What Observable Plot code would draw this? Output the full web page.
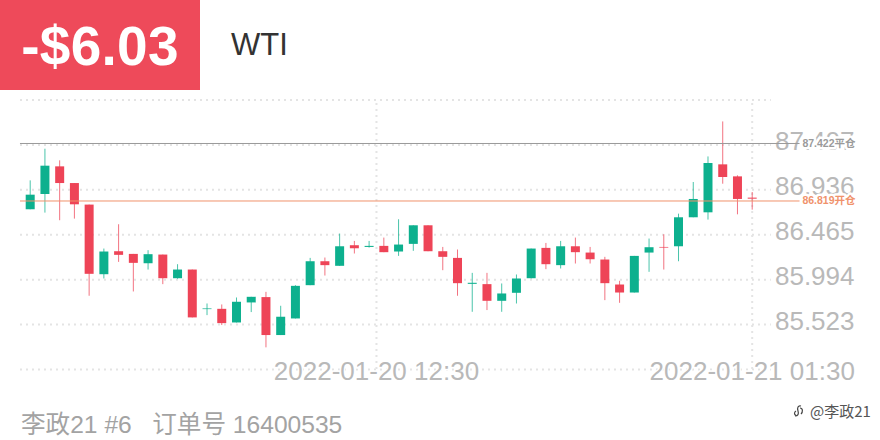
<!DOCTYPE html>
<html><head><meta charset="utf-8">
<script src="https://cdn.jsdelivr.net/npm/d3@7"></script>
<script src="https://cdn.jsdelivr.net/npm/@observablehq/plot@0.6"></script>
<style>
html,body{margin:0;padding:0;background:#fff;width:880px;height:440px;overflow:hidden;font-family:"Liberation Sans",sans-serif}
#wrap{position:relative;width:880px;height:440px}
#badge{position:absolute;left:0;top:0;width:200px;height:90px;background:#ee4a5a;color:#fff;font-weight:700;font-size:55px;line-height:92px;text-align:center;letter-spacing:.3px}
#symbol{position:absolute;left:231px;top:26px;font-size:31px;line-height:38px;color:#333}
#chart{position:absolute;left:0;top:90px}
#order{position:absolute;left:21px;top:410px;font:24.6px/30px "Liberation Sans","Noto Sans CJK SC",sans-serif;color:#a3a3a3;white-space:pre}
#mark{position:absolute;left:810px;top:402px;font:15px/18px "Noto Sans CJK SC",sans-serif;color:#555;white-space:pre}
#logo{position:absolute;left:792px;top:404px}
</style></head><body>
<div id="wrap">
<div id="badge">-$6.03</div>
<div id="symbol">WTI</div>
<div id="chart"></div>
<div id="order">李政21 #6   订单号 16400535</div>
<svg id="logo" width="14" height="14" viewBox="0 0 14 14"><path d="M9 2C6 1 5 4 6 7S6 12 3 12M4 7C2 8 2 11 4 11M8 4c3 0 3 4 1 6" fill="none" stroke="#444" stroke-width="1.2"/></svg>
<div id="mark">@李政21</div>
</div>
<script>
const high = [87.030,87.362,87.240,87.002,86.776,86.315,86.570,86.259,86.298,86.252,
  86.151,86.095,85.739,85.729,85.802,85.809,85.861,85.715,85.931,86.217,
  86.221,86.472,86.395,86.395,86.430,86.622,86.559,86.559,86.332,86.305,
  86.060,86.060,85.949,86.043,86.315,86.374,86.395,86.430,86.332,86.228,
  85.977,86.238,86.420,86.465,86.681,87.013,87.281,87.648,87.083,86.908];
const open = [86.727,86.887,87.177,87.002,86.776,86.046,86.287,86.259,86.161,86.252,
  86.004,86.095,85.680,85.683,85.540,85.750,85.806,85.408,85.582,85.931,
  86.182,86.134,86.350,86.332,86.343,86.284,86.364,86.559,86.287,86.217,
  85.945,85.942,85.767,85.851,86.004,86.322,86.141,86.339,86.273,86.200,
  85.938,85.854,86.273,86.332,86.339,86.643,86.695,87.198,87.072,86.849];
const close = [86.880,87.184,87.002,86.779,86.050,86.284,86.249,86.165,86.256,86.004,
  86.095,85.593,85.687,85.533,85.757,85.809,85.408,85.600,85.924,86.182,
  86.141,86.339,86.318,86.343,86.277,86.357,86.559,86.287,86.228,85.952,
  85.956,85.767,85.844,86.001,86.315,86.151,86.339,86.277,86.203,85.952,
  85.854,86.238,86.329,86.325,86.643,86.835,87.212,87.065,86.835,86.838];
const low = [86.727,86.692,86.612,86.629,85.820,86.001,86.175,85.865,86.095,85.942,
  85.998,85.593,85.617,85.513,85.540,85.649,85.279,85.408,85.582,85.931,
  86.032,86.134,86.263,86.325,86.277,86.238,86.291,86.287,86.088,85.820,
  85.652,85.670,85.652,85.739,86.001,86.099,86.106,86.158,86.158,85.774,
  85.746,85.854,86.071,86.095,86.182,86.643,86.619,86.995,86.674,86.723];
const gridPrices = [87.878,87.407,86.936,86.465,85.994,85.523,85.052];
const priceLabels = ["87.407","86.936","86.465","85.994","85.523"];
const dateSlots = [23.5,49];
const dateLabels = ["2022-01-20 12:30","2022-01-21 01:30"];
const levels = [87.422,86.819];
const levelLabels = ["87.422平仓","86.819开仓"];
const levelColors = ["#9a9a9a","#f0926c"];

const candles = high.map((h,i)=>({i,high:h,low:low[i],open:open[i],close:close[i],dir:close[i]>=open[i]?"up":"down"}));
const font = '"Liberation Sans",sans-serif';

const chart = Plot.plot({
  width:880,height:305,margin:0,
  style:{background:"transparent",overflow:"visible"},
  x:{type:"linear",domain:[0,49],range:[29.7,751.7],axis:null},
  y:{type:"linear",domain:[85.052,87.878],range:[279,9.5],axis:null},
  color:{domain:["up","down"],range:["#0db08e","#ee4457"]},
  marks:[
    Plot.ruleY(gridPrices,{x1:-0.66,x2:50.3,stroke:"#e4e4e4",strokeWidth:2,strokeDasharray:"2 4"}),
    Plot.ruleX(dateSlots,{y1:85.052,y2:87.878,stroke:"#e4e4e4",strokeWidth:2,strokeDasharray:"2 4"}),
    Plot.ruleX(candles,{x:"i",y1:"low",y2:"high",stroke:"dir",strokeWidth:1,strokeOpacity:.75}),
    Plot.ruleX(candles,{x:"i",y1:"open",y2:"close",stroke:"dir",strokeWidth:9}),
    Plot.text(priceLabels,{y:d=>+d,text:d=>d,frameAnchor:"right",dx:-26,dy:-3,fontSize:26,fontFamily:font,fill:"#b9b9b9",stroke:"#fff",strokeWidth:2,paintOrder:"stroke"}),
    Plot.text(dateLabels,{x:(d,i)=>dateSlots[i],y:()=>85.052,text:d=>d,dy:2,fontSize:26,fontFamily:font,fontVariant:"normal",fill:"#b9b9b9",stroke:"#fff",strokeWidth:3,paintOrder:"stroke"}),
    Plot.ruleY(levels,{x1:-0.66,x2:52.25,stroke:(d,i)=>levelColors[i]}),
    Plot.text(levelLabels,{y:(d,i)=>levels[i],text:d=>d,frameAnchor:"right",dx:-25,fontSize:10.5,fontWeight:700,fontFamily:'"Liberation Sans","Noto Sans CJK SC",sans-serif',fill:(d,i)=>levelColors[i],stroke:"#fff",strokeWidth:5,paintOrder:"stroke"})
  ]
});
document.getElementById("chart").appendChild(chart);
</script>
</body></html>
